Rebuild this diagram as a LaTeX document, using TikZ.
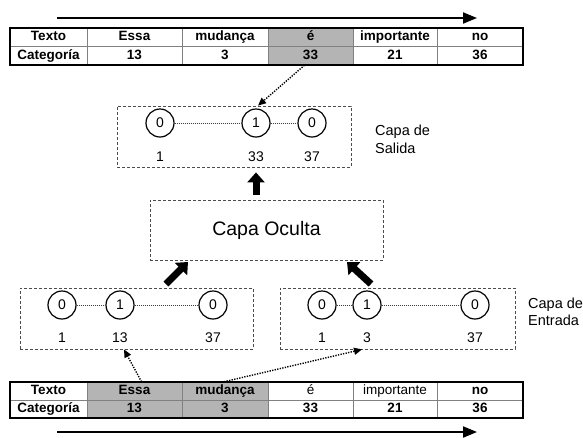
\documentclass[tikz,border=0pt]{standalone}
\usepackage{fontspec}
\setmainfont{Liberation Sans}
\usetikzlibrary{arrows.meta}
\definecolor{shade}{RGB}{180,180,180}
\tikzset{
  cell/.style={draw=black!50, line width=0.5pt, inner sep=0pt, text height=9.5pt, text depth=2.8pt,
    font=\fontsize{13.5}{14}\selectfont\bfseries},
  cellr/.style={cell, font=\fontsize{13.5}{14}\selectfont},
  hl/.style={fill=shade},
  frame/.style={draw=black, line width=1.8pt},
  dbox/.style={draw=black!70, dash pattern=on 3pt off 2pt, line width=0.8pt, inner sep=0pt},
  neuron/.style={circle, draw=black, line width=1.2pt, minimum size=28pt, inner sep=0pt,
    font=\fontsize{14}{14}\selectfont},
  lbl/.style={inner sep=0pt, font=\fontsize{14}{14}\selectfont},
  side/.style={inner sep=0pt, anchor=west, align=left, font=\fontsize{14.5}{17.5}\selectfont},
  link/.style={draw=black!75, line width=0.8pt, dash pattern=on 1pt off 1pt},
  ptr/.style={draw=black, line width=1.4pt, dash pattern=on 1.3pt off 1.3pt,
    -{Triangle[length=8pt,width=7pt]}},
  bigarrow/.style={draw=black, line width=7pt, -{Triangle[length=10pt,width=17pt]}},
  timeline/.style={draw=black, line width=2pt, -{Triangle[length=14pt,width=11pt]}},
}
\begin{document}
\begin{tikzpicture}[x=1pt,y=-1pt]
\useasboundingbox (0,0) rectangle (583,437);

% ---------- top table ----------
\coordinate (tl0) at (57,18);
\coordinate (tl1) at (477,18);
\draw[timeline] (tl0) -- (tl1);

\node[cell, minimum width=77pt, minimum height=18.5pt] (ta1) at (48.5,37.25) {Texto};
\node[cell, minimum width=95pt, minimum height=18.5pt] (ta2) at (134.5,37.25) {Essa};
\node[cell, minimum width=86pt, minimum height=18.5pt] (ta3) at (225,37.25) {mudança};
\node[cell, hl, minimum width=85pt, minimum height=18.5pt] (ta4) at (310.5,37.25) {é};
\node[cell, minimum width=84pt, minimum height=18.5pt] (ta5) at (395,37.25) {importante};
\node[cell, minimum width=86pt, minimum height=18.5pt] (ta6) at (480,37.25) {no};
\node[cell, minimum width=77pt, minimum height=18.5pt] (tb1) at (48.5,55.75) {Categoría};
\node[cell, minimum width=95pt, minimum height=18.5pt] (tb2) at (134.5,55.75) {13};
\node[cell, minimum width=86pt, minimum height=18.5pt] (tb3) at (225,55.75) {3};
\node[cell, hl, minimum width=85pt, minimum height=18.5pt] (tb4) at (310.5,55.75) {33};
\node[cell, minimum width=84pt, minimum height=18.5pt] (tb5) at (395,55.75) {21};
\node[cell, minimum width=86pt, minimum height=18.5pt] (tb6) at (480,55.75) {36};
\draw[frame] (ta1.north west) rectangle (tb6.south east);

% ---------- output layer ----------
\node[dbox, minimum width=234pt, minimum height=61pt] (obox) at (234,136.5) {};
\node[neuron] (o1) at (160,123) {0};
\node[neuron] (o2) at (256,123) {1};
\node[neuron] (o3) at (312,123) {0};
\draw[link] (o1) -- (o2);
\draw[link] (o2) -- (o3);
\node[lbl] (ol1) at (160,157) {1};
\node[lbl] (ol2) at (256,157) {33};
\node[lbl] (ol3) at (312,157) {37};
\node[side] (otxt) at (375,139.5) {Capa de\\Salida};

\draw[ptr] ([xshift=-6pt]tb4.south) -- ([xshift=2pt]o2.center |- obox.north);

% ---------- hidden layer ----------
\node[dbox, minimum width=233pt, minimum height=60pt, font=\fontsize{19.5}{20}\selectfont] (hbox) at (266.5,230) {Capa Oculta};
\draw[bigarrow] ([yshift=5pt]hbox.north -| o2.center) -- ([yshift=-5pt]obox.south -| o2.center) ;

% ---------- input layers ----------
\node[dbox, minimum width=233pt, minimum height=61pt] (lbox) at (136.5,318.5) {};
\node[neuron] (l1) at (62,305) {0};
\node[neuron] (l2) at (120,305) {1};
\node[neuron] (l3) at (213,305) {0};
\draw[link] (l1) -- (l2);
\draw[link] (l2) -- (l3);
\node[lbl] (ll1) at (62,338) {1};
\node[lbl] (ll2) at (120,338) {13};
\node[lbl] (ll3) at (213,338) {37};

\node[dbox, minimum width=235pt, minimum height=61pt] (rbox) at (397.5,318.5) {};
\node[neuron] (r1) at (322,305) {0};
\node[neuron] (r2) at (367,305) {1};
\node[neuron] (r3) at (475,305) {0};
\draw[link] (r1) -- (r2);
\draw[link] (r2) -- (r3);
\node[lbl] (rl1) at (322,338) {1};
\node[lbl] (rl2) at (367,338) {3};
\node[lbl] (rl3) at (475,338) {37};
\node[side] (itxt) at (528,312) {Capa de\\Entrada};

\coordinate (la0) at (166,284);
\coordinate (la1) at (188,262);
\coordinate (ra0) at (371,284);
\coordinate (ra1) at (347,262);
\draw[bigarrow] (la0) -- (la1);
\draw[bigarrow] (ra0) -- (ra1);

% ---------- bottom table ----------
\node[cell, minimum width=77pt, minimum height=18pt] (ba1) at (48.5,391) {Texto};
\node[cell, hl, minimum width=95pt, minimum height=18pt] (ba2) at (134.5,391) {Essa};
\node[cell, hl, minimum width=86pt, minimum height=18pt] (ba3) at (225,391) {mudança};
\node[cellr, minimum width=85pt, minimum height=18pt] (ba4) at (310.5,391) {é};
\node[cellr, minimum width=84pt, minimum height=18pt] (ba5) at (395,391) {importante};
\node[cell, minimum width=86pt, minimum height=18pt] (ba6) at (480,391) {no};
\node[cell, minimum width=77pt, minimum height=18pt] (bb1) at (48.5,409) {Categoría};
\node[cell, hl, minimum width=95pt, minimum height=18pt] (bb2) at (134.5,409) {13};
\node[cell, hl, minimum width=86pt, minimum height=18pt] (bb3) at (225,409) {3};
\node[cell, minimum width=85pt, minimum height=18pt] (bb4) at (310.5,409) {33};
\node[cell, minimum width=84pt, minimum height=18pt] (bb5) at (395,409) {21};
\node[cell, minimum width=86pt, minimum height=18pt] (bb6) at (480,409) {36};
\draw[frame] (ba1.north west) rectangle (bb6.south east);

\draw[ptr] ([xshift=7pt]ba2.north) -- ([xshift=4pt]l2.center |- lbox.south);
\draw[ptr] ([xshift=-1pt]ba3.north) -- ([xshift=-5pt]r2.center |- rbox.south);

\coordinate (bl0) at (57,432);
\coordinate (bl1) at (477,432);
\draw[timeline] (bl0) -- (bl1);
\end{tikzpicture}
\end{document}
